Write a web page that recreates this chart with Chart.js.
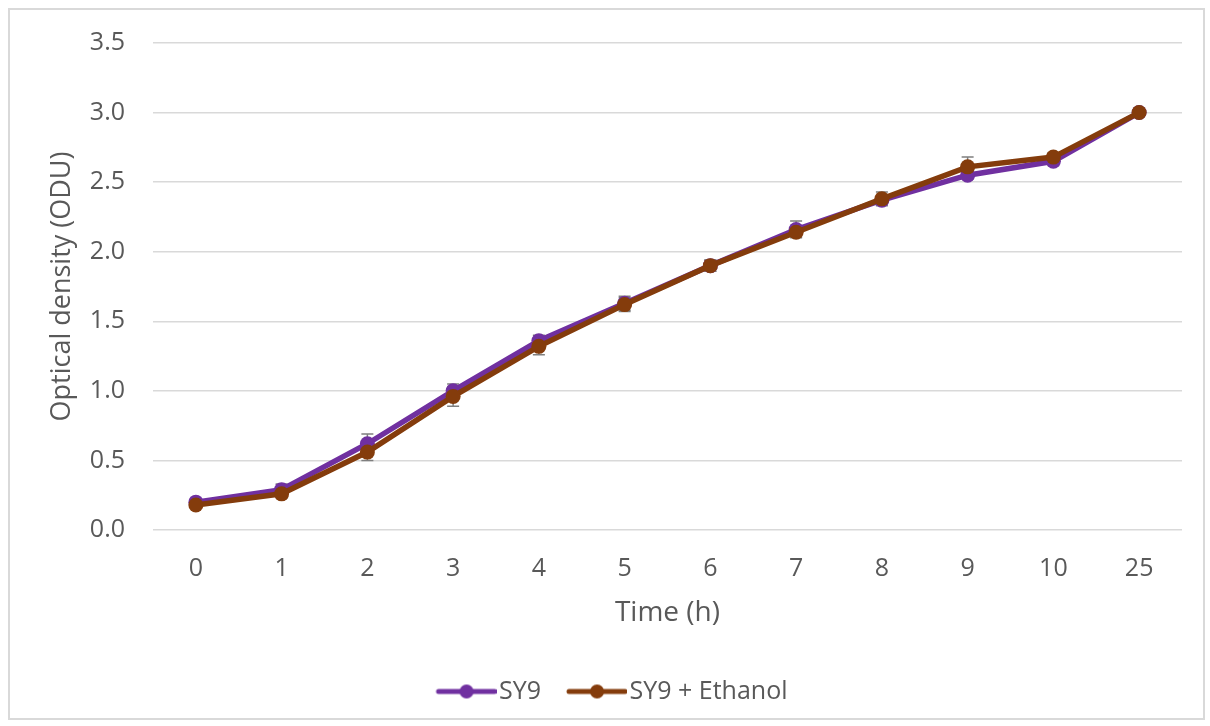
<!DOCTYPE html>
<html lang="en">
<head>
    <meta charset="UTF-8">
    <title>Optical density over time</title>
    <script src="https://cdn.jsdelivr.net/npm/chart.js"></script>
    <style>
        body {
            margin: 0;
            padding: 0;
            background: #ffffff;
            width: 1210px;
            height: 726px;
            overflow: hidden;
            position: relative;
        }

        #frame {
            position: absolute;
            left: 8px;
            top: 8px;
            width: 1193px;
            height: 708px;
            border: 2px solid #d9d9d9;
        }

        #wrap {
            position: absolute;
            left: 0;
            top: 0;
            width: 1210px;
            height: 726px;
        }
    </style>
</head>
<body>
    <div id="frame"></div>
    <div id="wrap">
        <canvas id="odChart"></canvas>
    </div>

    <script>
        // Time points (h)
        var timeLabels = ['0', '1', '2', '3', '4', '5', '6', '7', '8', '9', '10', '25'];

        // Optical density readings
        var sy9Values = [0.20, 0.29, 0.62, 1.00, 1.36, 1.63, 1.90, 2.16, 2.37, 2.55, 2.65, 3.00];
        var ethanolValues = [0.18, 0.26, 0.56, 0.96, 1.32, 1.62, 1.90, 2.14, 2.38, 2.61, 2.68, 3.00];

        // Error bar sizes (+/-)
        var sy9Errors = [0.02, 0.04, 0.07, 0.05, 0.04, 0.05, 0.04, 0.06, 0.03, 0.03, 0.03, 0.00];
        var ethanolErrors = [0.02, 0.03, 0.06, 0.07, 0.06, 0.05, 0.04, 0.03, 0.05, 0.07, 0.03, 0.00];

        var purple = '#7030a0';
        var brown = '#843c0c';
        var textGrey = '#595959';
        var font = '"Open Sans", "DejaVu Sans", sans-serif';

        // legend marker: short line with a dot, drawn on the right side of the image
        function legendIcon(color) {
            var c = document.createElement('canvas');
            c.width = 86;
            c.height = 18;
            var g = c.getContext('2d');
            g.strokeStyle = color;
            g.lineWidth = 5;
            g.lineCap = 'round';
            g.beginPath();
            g.moveTo(28, 9);
            g.lineTo(84, 9);
            g.stroke();
            g.fillStyle = color;
            g.beginPath();
            g.arc(56, 9, 7, 0, Math.PI * 2);
            g.fill();
            return c;
        }

        // Draw +/- error bars under the lines
        var errorBars = {
            id: 'errorBars',
            beforeDatasetsDraw: function(chart) {
                var ctx = chart.ctx;
                var x = chart.scales.x;
                var y = chart.scales.y;
                var sets = [[sy9Values, sy9Errors], [ethanolValues, ethanolErrors]];
                ctx.save();
                ctx.strokeStyle = '#7f7f7f';
                ctx.lineWidth = 1.5;
                sets.forEach(function(s) {
                    s[0].forEach(function(v, i) {
                        var e = s[1][i];
                        if (!e) return;
                        var px = x.getPixelForValue(i);
                        var top = y.getPixelForValue(v + e);
                        var bot = y.getPixelForValue(v - e);
                        ctx.beginPath();
                        ctx.moveTo(px, top);
                        ctx.lineTo(px, bot);
                        ctx.moveTo(px - 6, top);
                        ctx.lineTo(px + 6, top);
                        ctx.moveTo(px - 6, bot);
                        ctx.lineTo(px + 6, bot);
                        ctx.stroke();
                    });
                });
                ctx.restore();
            }
        };

        // nudge the legend a little to the right, as in the original
        var legendShift = {
            id: 'legendShift',
            afterLayout: function(chart) {
                chart.legend.left += 13;
                chart.legend.right += 13;
            }
        };

        var ctx = document.getElementById('odChart').getContext('2d');
        var odChart = new Chart(ctx, {
            type: 'line',
            data: {
                labels: timeLabels,
                datasets: [{
                    label: 'SY9',
                    data: sy9Values,
                    borderColor: purple,
                    backgroundColor: purple,
                    borderWidth: 5.5,
                    pointRadius: 7.5,
                    pointHoverRadius: 7.5,
                    pointBorderWidth: 0,
                    tension: 0,
                    order: 1
                }, {
                    label: 'SY9 + Ethanol',
                    data: ethanolValues,
                    borderColor: brown,
                    backgroundColor: brown,
                    borderWidth: 5.5,
                    pointRadius: 7.5,
                    pointHoverRadius: 7.5,
                    pointBorderWidth: 0,
                    tension: 0,
                    order: 0
                }]
            },
            options: {
                responsive: true,
                maintainAspectRatio: false,
                animation: false,
                layout: {
                    padding: { left: 0, right: 28, top: 37, bottom: 12 }
                },
                plugins: {
                    tooltip: { enabled: false },
                    legend: {
                        position: 'bottom',
                        labels: {
                            usePointStyle: true,
                            pointStyleWidth: 66,
                            padding: 10,
                            color: textGrey,
                            font: { family: font, size: 25 },
                            generateLabels: function(chart) {
                                return [
                                    { text: 'SY9', pointStyle: legendIcon(purple), fillStyle: purple, strokeStyle: purple, lineWidth: 0, hidden: false, datasetIndex: 0, fontColor: textGrey },
                                    { text: 'SY9 + Ethanol', pointStyle: legendIcon(brown), fillStyle: brown, strokeStyle: brown, lineWidth: 0, hidden: false, datasetIndex: 1, fontColor: textGrey }
                                ];
                            }
                        }
                    }
                },
                scales: {
                    x: {
                        offset: true,
                        grid: { display: false, drawTicks: false },
                        border: { display: false },
                        ticks: {
                            color: textGrey,
                            padding: 24,
                            font: { family: font, size: 25 }
                        },
                        title: {
                            display: true,
                            text: 'Time (h)',
                            color: textGrey,
                            font: { family: font, size: 28 },
                            padding: { top: 0, bottom: 39 }
                        },
                        afterFit: function(scale) {
                            scale.height = 139;
                        }
                    },
                    y: {
                        min: 0,
                        max: 3.5,
                        grid: { color: '#d9d9d9', lineWidth: 1.5, drawTicks: false },
                        border: { display: false },
                        ticks: {
                            stepSize: 0.5,
                            color: textGrey,
                            padding: 28,
                            font: { family: font, size: 25 },
                            callback: function(v) { return v.toFixed(1); }
                        },
                        title: {
                            display: true,
                            text: 'Optical density (ODU)',
                            color: textGrey,
                            font: { family: font, size: 27 },
                            padding: { top: 46, bottom: 0 }
                        },
                        afterFit: function(scale) {
                            scale.width = 153;
                        }
                    }
                }
            },
            plugins: [errorBars, legendShift]
        });
    </script>
</body>
</html>
